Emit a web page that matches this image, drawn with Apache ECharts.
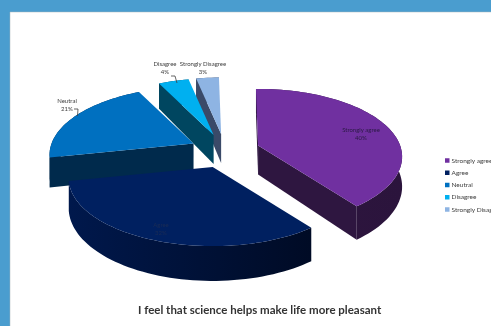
<!DOCTYPE html>
<html>
<head>
<meta charset="utf-8">
<style>html,body{margin:0;padding:0;background:#4a9dcf}#c{width:491px;height:326px}</style>
<script src="https://cdn.jsdelivr.net/npm/echarts@6/dist/echarts.min.js"></script>
</head>
<body>
<div id="c"></div>
<script>
// Survey responses, in percent
const categories = ['Strongly agree', 'Agree', 'Neutral', 'Disagree', 'Strongly Disagree'];
const shares = [40, 32, 21, 4, 3];

// Appearance of each slice
const topColors = ['#7030a0', '#002060', '#0070c0', '#00b0f0', '#8eb4e3'];
const wallColors = ['#2e1640', '#00184c', '#002a4c', '#004660', '#3a4a68'];
const rimEndColors = ['#2b143c', '#000b25', '#002a4c', '#004660', '#3a4a68'];
const labelColors = ['#2b1a45', '#1a2c55', '#404040', '#404040', '#404040'];
const labelAnchors = [[361, 134], [161, 229], [67, 105], [165, 68], [203, 68]];

// Tilted disc with mild perspective, each slice pushed out along its middle angle
const disc = { cx: 225, cy: 151, rx: 142, ry: 66, persp: 0.1667, depth: 29, explodeX: 35, explodeY: 17, start: -1 };
const drawOrder = [4, 3, 2, 0, 1];

const total = shares.reduce((a, b) => a + b, 0);
const DEG = Math.PI / 180;

function sweep(i) {
  let a = disc.start;
  for (let k = 0; k < i; k++) a += shares[k] / total * 360;
  return [a, a + shares[i] / total * 360];
}

// Slice-local unit-disc point to screen position
function project(origin, px, py, drop) {
  const k = 1 / (1 - disc.persp * py);
  return [origin[0] + px * disc.rx * k, origin[1] + py * disc.ry * k + (drop || 0) * k];
}

function sliceGeometry(i) {
  const [a, b] = sweep(i);
  const mid = (a + b) / 2 * DEG;
  const origin = [disc.cx + disc.explodeX * Math.sin(mid), disc.cy - disc.explodeY * Math.cos(mid)];
  const rim = [];
  const steps = Math.max(6, Math.round((b - a) / 2));
  for (let s = 0; s <= steps; s++) {
    const t = (a + (b - a) * s / steps) * DEG;
    rim.push([Math.sin(t), -Math.cos(t)]);
  }
  const up = p => project(origin, p[0], p[1], 0);
  const down = p => project(origin, p[0], p[1], disc.depth);
  return { a, b, rim, apex: [0, 0], up, down };
}

function renderSlice(i, api) {
  const g = sliceGeometry(i);
  const { rim, apex, up, down } = g;
  const children = [];
  const wall = wallColors[i];
  const rimPts = rim.map(up).concat(rim.slice().reverse().map(down));
  children.push({
    type: 'polygon', shape: { points: rimPts },
    style: { fill: { type: 'linear', x: 0, y: 0, x2: 1, y2: 0,
      colorStops: [{ offset: 0, color: wallColors[i] }, { offset: 1, color: rimEndColors[i] }] } }
  });
  // Only the cut faces turned towards the viewer
  if (-Math.sin(g.a * DEG) > 0) {
    const e = rim[0];
    children.push({ type: 'polygon', shape: { points: [up(apex), up(e), down(e), down(apex)] }, style: { fill: wall } });
  }
  if (Math.sin(g.b * DEG) > 0) {
    const e = rim[rim.length - 1];
    children.push({ type: 'polygon', shape: { points: [up(apex), up(e), down(e), down(apex)] }, style: { fill: wall } });
  }
  children.push({
    type: 'polygon', shape: { points: [up(apex)].concat(rim.map(up)) },
    style: { fill: api.visual('color') }
  });
  children.push({
    type: 'text',
    style: {
      x: labelAnchors[i][0], y: labelAnchors[i][1],
      text: categories[i] + '\n' + api.value(0) + '%',
      fill: labelColors[i], font: '6px Lato', align: 'center', verticalAlign: 'middle', lineHeight: 8
    }
  });
  return { type: 'group', children };
}

const chart = echarts.init(document.getElementById('c'), null, { renderer: 'canvas' });
chart.setOption({
  animation: false,
  backgroundColor: '#4a9dcf',
  graphic: [
    { type: 'rect', z: -10, shape: { x: 10, y: 12, width: 482, height: 315 }, style: { fill: '#ffffff', stroke: '#a9b4bb', lineWidth: 0.5 } },
    { type: 'polyline', z: 10, shape: { points: [[74, 109], [78, 109], [77.5, 116]] }, style: { stroke: '#404040', lineWidth: 0.8, fill: null } },
    { type: 'polyline', z: 10, shape: { points: [[171, 76], [175, 76], [177, 83]] }, style: { stroke: '#404040', lineWidth: 0.8, fill: null } }
  ],
  title: {
    text: 'I feel that science helps make life more pleasant',
    left: 138, top: 304, padding: 0,
    textStyle: { fontFamily: 'Lato', fontSize: 11.5, fontWeight: 'bold', color: '#333333' }
  },
  legend: {
    orient: 'vertical', left: 445, top: 157, padding: 0,
    data: categories, icon: 'rect', itemWidth: 4.5, itemHeight: 4.5, itemGap: 5.25,
    textStyle: { fontFamily: 'Lato', fontSize: 6.5, color: '#404040', padding: [0, 0, 0, -3] }
  },
  series: drawOrder.map(i => ({
    type: 'custom',
    name: categories[i],
    coordinateSystem: 'none',
    silent: true,
    itemStyle: { color: topColors[i] },
    data: [[shares[i]]],
    renderItem: (params, api) => renderSlice(i, api)
  }))
});
</script>
</body>
</html>
